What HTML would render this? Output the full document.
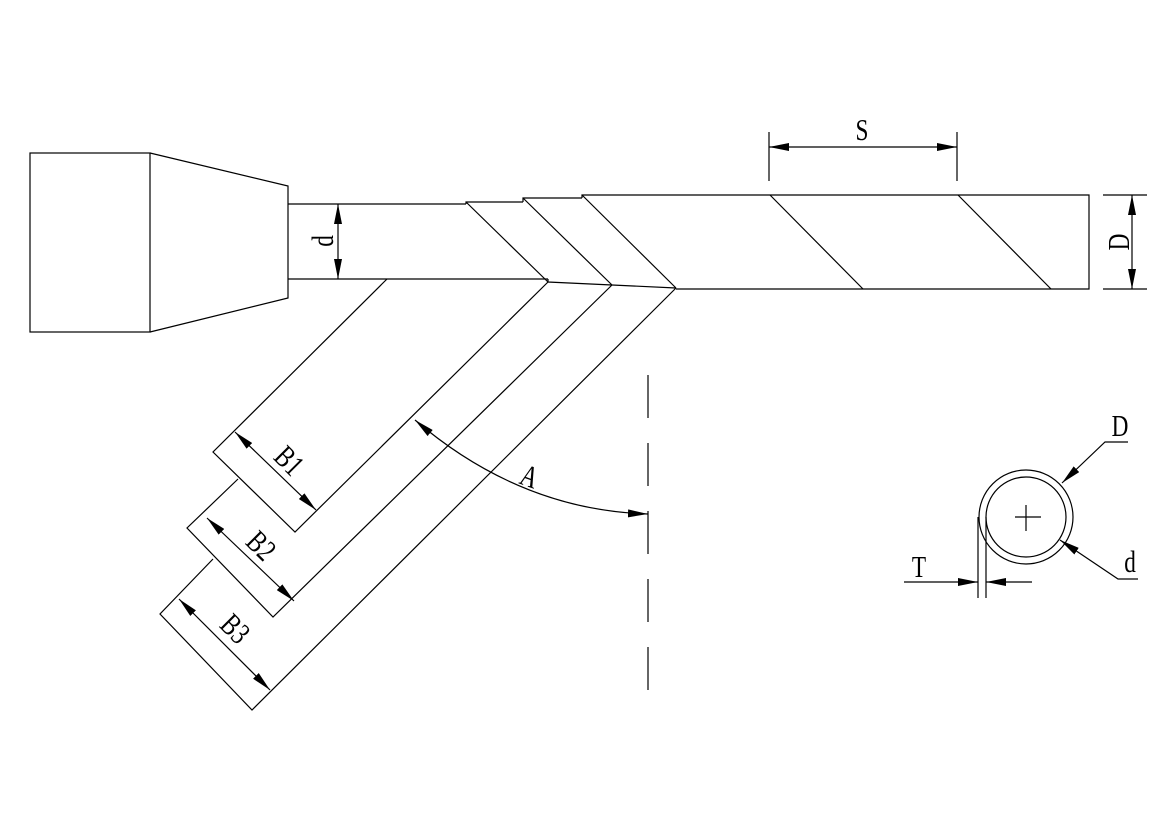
<!DOCTYPE html>
<html><head><meta charset="utf-8"><style>html,body{margin:0;padding:0;background:#fff}svg{display:block}</style></head>
<body>
<svg width="1169" height="826" viewBox="0 0 1169 826" xmlns="http://www.w3.org/2000/svg">
<defs>
<marker id="a" viewBox="0 0 20 8" refX="20" refY="4" markerWidth="20" markerHeight="8" markerUnits="userSpaceOnUse" orient="auto-start-reverse">
<path d="M0,0 L20,4 L0,8 Z" fill="#000"/>
</marker>
</defs>
<g fill="none" stroke="#000" stroke-width="1.2">
<rect x="30" y="153" width="120" height="179"/>
<polyline points="150,153 288,186 288,298 150,332"/>
<line x1="288" y1="204" x2="466" y2="204"/>
<line x1="288" y1="279" x2="548" y2="279"/>
<polyline points="466,204 466,202 523,202"/>
<polyline points="523,202 523,198 582,198"/>
<polyline points="582,198 582,195 1089,195 1089,289 676,289"/>
<line x1="466" y1="202" x2="548" y2="282"/>
<line x1="523" y1="198" x2="612" y2="285"/>
<line x1="582" y1="195" x2="676" y2="288"/>
<polyline points="548,279 548,282 612,285 676,288"/>
<line x1="770" y1="195" x2="863" y2="289"/>
<line x1="958" y1="195" x2="1051" y2="289"/>
<polyline points="387,279 213,452 295,532 548,282"/>
<polyline points="238,479 187,528 273,617 612,285"/>
<polyline points="213,559 160,614 252,710 676,288"/>
<line x1="338" y1="204" x2="338" y2="279" marker-start="url(#a)" marker-end="url(#a)"/>
<line x1="769" y1="132" x2="769" y2="181"/>
<line x1="957" y1="132" x2="957" y2="181"/>
<line x1="769" y1="147" x2="957" y2="147" marker-start="url(#a)" marker-end="url(#a)"/>
<line x1="1103" y1="195" x2="1147" y2="195"/>
<line x1="1103" y1="289" x2="1147" y2="289"/>
<line x1="1132" y1="195" x2="1132" y2="289" marker-start="url(#a)" marker-end="url(#a)"/>
<line x1="235" y1="432" x2="316" y2="510" marker-start="url(#a)" marker-end="url(#a)"/>
<line x1="207" y1="518" x2="294" y2="601" marker-start="url(#a)" marker-end="url(#a)"/>
<line x1="179" y1="599" x2="270" y2="690" marker-start="url(#a)" marker-end="url(#a)"/>
<path d="M415,420 Q520,510 648,514" marker-start="url(#a)" marker-end="url(#a)"/>
<line x1="648" y1="375" x2="648" y2="703" stroke-dasharray="43,25"/>
<circle cx="1026" cy="517" r="47"/>
<circle cx="1026" cy="517" r="40"/>
<line x1="1015" y1="517" x2="1041" y2="517"/>
<line x1="1026" y1="505" x2="1026" y2="531"/>
<line x1="978" y1="517" x2="978" y2="598"/>
<line x1="986" y1="517" x2="986" y2="598"/>
<line x1="904" y1="582" x2="978" y2="582" marker-end="url(#a)"/>
<line x1="1032" y1="582" x2="986" y2="582" marker-end="url(#a)"/>
<polyline points="1128,442 1105,442 1062,483" marker-end="url(#a)"/>
<polyline points="1138,579 1118,579 1060,540" marker-end="url(#a)"/>
</g>
<g font-family="'Liberation Serif', serif" font-size="31" fill="#000">
<text transform="translate(862,140) scale(0.75 1)" text-anchor="middle">S</text>
<text transform="translate(1129,242) rotate(-90) scale(0.75 1)" text-anchor="middle">D</text>
<text transform="translate(333,241) rotate(-90) scale(0.75 1)" text-anchor="middle">d</text>
<text transform="translate(282,468) rotate(45) scale(0.75 1)" text-anchor="middle">B1</text>
<text transform="translate(254,553) rotate(45) scale(0.75 1)" text-anchor="middle">B2</text>
<text transform="translate(228,636) rotate(45) scale(0.75 1)" text-anchor="middle">B3</text>
<text transform="translate(526,486) rotate(20) scale(0.75 1)" text-anchor="middle">A</text>
<text transform="translate(1120,436) scale(0.75 1)" text-anchor="middle">D</text>
<text transform="translate(1130,572) scale(0.75 1)" text-anchor="middle">d</text>
<text transform="translate(919,577) scale(0.75 1)" text-anchor="middle">T</text>
</g>
</svg>
</body></html>
